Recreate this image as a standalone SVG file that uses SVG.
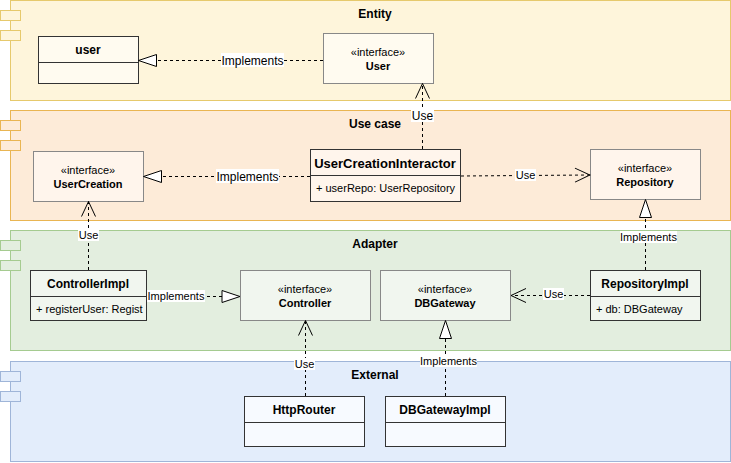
<svg xmlns="http://www.w3.org/2000/svg" width="731" height="463" viewBox="0 0 731 463">
<style>
text{font-family:"Liberation Sans",Arial,sans-serif;fill:#000}
.t{font-size:12px;font-weight:bold;text-anchor:middle}
.tl{font-size:13px;font-weight:bold;text-anchor:middle}
.st{font-size:11px;text-anchor:middle}
.at{font-size:11px}
.lb{font-size:11px;text-anchor:middle}
.lb2{font-size:12px;text-anchor:middle}
.n{stroke:#333;stroke-width:1}
.i{stroke:#888;stroke-width:1}
.e{fill:none;stroke:#000;stroke-width:1;stroke-dasharray:3 3}
.lbg{fill:#fff}
</style>
<defs>
<marker id="tri" viewBox="0 0 20 14" refX="19" refY="7" markerWidth="20" markerHeight="14" markerUnits="userSpaceOnUse" orient="auto">
<path d="M1,1 L19,7 L1,13 Z" fill="#fff" stroke="#000" stroke-width="1"/>
</marker>
<marker id="open" viewBox="0 0 20 16" refX="19" refY="8" markerWidth="20" markerHeight="16" markerUnits="userSpaceOnUse" orient="auto">
<path d="M4,1 L19,8 L4,15" fill="none" stroke="#000" stroke-width="1"/>
</marker>
</defs>

<g id="entity">
<rect x="10.5" y="0.5" width="720" height="100" fill="#fef5db" stroke="#e6c96c"/>
<rect x="0.5" y="10.5" width="20" height="10" fill="#fef5db" stroke="#e6c96c"/>
<rect x="0.5" y="30.5" width="20" height="10" fill="#fef5db" stroke="#e6c96c"/>
<text class="t" x="375" y="18">Entity</text>
</g>
<g id="usecase">
<rect x="10.5" y="110.5" width="720" height="110" fill="#fdebd8" stroke="#e9b552"/>
<rect x="0.5" y="120.5" width="20" height="10" fill="#fdebd8" stroke="#e9b552"/>
<rect x="0.5" y="140.5" width="20" height="10" fill="#fdebd8" stroke="#e9b552"/>
<text class="t" x="375" y="128">Use case</text>
</g>
<g id="adapter">
<rect x="10.5" y="230.5" width="720" height="120" fill="#e3eedf" stroke="#a5cb90"/>
<rect x="0.5" y="240.5" width="20" height="10" fill="#e3eedf" stroke="#a5cb90"/>
<rect x="0.5" y="260.5" width="20" height="10" fill="#e3eedf" stroke="#a5cb90"/>
<text class="t" x="375" y="248">Adapter</text>
</g>
<g id="external">
<rect x="10.5" y="361.5" width="720" height="100" fill="#e3edfb" stroke="#9fb5d8"/>
<rect x="0.5" y="371.5" width="20" height="10" fill="#e3edfb" stroke="#9fb5d8"/>
<rect x="0.5" y="391.5" width="20" height="10" fill="#e3edfb" stroke="#9fb5d8"/>
<text class="t" x="375" y="379">External</text>
</g>

<g id="user">
<rect class="n" x="38.5" y="36.5" width="100" height="47" fill="#fffbf0"/>
<line class="n" x1="38.5" y1="62.5" x2="138.5" y2="62.5"/>
<text class="t" x="88" y="54">user</text>
</g>
<g id="User">
<rect class="i" x="323.5" y="33.5" width="110" height="50" fill="#fffbf0"/>
<text class="st" x="378" y="56">«interface»</text>
<text class="st" x="378" y="70" font-weight="bold">User</text>
</g>
<g id="UserCreation">
<rect class="i" x="33.5" y="151.5" width="110" height="50" fill="#fff5ec"/>
<text class="st" x="88" y="174">«interface»</text>
<text class="st" x="88" y="188" font-weight="bold">UserCreation</text>
</g>
<g id="UserCreationInteractor">
<rect class="n" x="310.5" y="149.5" width="150" height="52" fill="#fff5ec"/>
<line class="n" x1="310.5" y1="175.5" x2="460.5" y2="175.5"/>
<text class="tl" x="385" y="168">UserCreationInteractor</text>
<text class="at" x="316" y="192">+ userRepo: UserRepository</text>
</g>
<g id="Repository">
<rect class="i" x="590.5" y="149.5" width="110" height="50" fill="#fff5ec"/>
<text class="st" x="645" y="172">«interface»</text>
<text class="st" x="645" y="186" font-weight="bold">Repository</text>
</g>
<g id="ControllerImpl">
<rect class="n" x="30.5" y="270.5" width="116" height="50" fill="#f1f6ef"/>
<line class="n" x1="30.5" y1="296.5" x2="146.5" y2="296.5"/>
<text class="t" x="88" y="288">ControllerImpl</text>
<text class="at" x="36" y="313">+ registerUser: Regist</text>
</g>
<g id="Controller">
<rect class="i" x="240.5" y="270.5" width="130" height="50" fill="#f1f6ef"/>
<text class="st" x="305" y="293">«interface»</text>
<text class="st" x="305" y="307" font-weight="bold">Controller</text>
</g>
<g id="DBGateway">
<rect class="i" x="380.5" y="270.5" width="130" height="50" fill="#f1f6ef"/>
<text class="st" x="445" y="293">«interface»</text>
<text class="st" x="445" y="307" font-weight="bold">DBGateway</text>
</g>
<g id="RepositoryImpl">
<rect class="n" x="590.5" y="270.5" width="110" height="50" fill="#f1f6ef"/>
<line class="n" x1="590.5" y1="296.5" x2="700.5" y2="296.5"/>
<text class="t" x="645" y="288">RepositoryImpl</text>
<text class="at" x="596" y="313">+ db: DBGateway</text>
</g>
<g id="HttpRouter">
<rect class="n" x="244.5" y="396.5" width="120" height="50" fill="#f7faff"/>
<line class="n" x1="244.5" y1="422.5" x2="364.5" y2="422.5"/>
<text class="t" x="304" y="414">HttpRouter</text>
</g>
<g id="DBGatewayImpl">
<rect class="n" x="385.5" y="396.5" width="120" height="50" fill="#f7faff"/>
<line class="n" x1="385.5" y1="422.5" x2="505.5" y2="422.5"/>
<text class="t" x="445" y="414">DBGatewayImpl</text>
</g>

<g id="connectors">
<path class="e" d="M323,60.5 L138.5,60.5" marker-end="url(#tri)"/>
<rect class="lbg" x="221" y="53" width="63" height="14"/>
<text class="lb2" x="252.5" y="64.5">Implements</text>

<path class="e" d="M422.5,149 L422.5,83.5" marker-end="url(#open)"/>
<rect class="lbg" x="411" y="108" width="23" height="14"/>
<text class="lb2" x="422.5" y="119.5">Use</text>

<path class="e" d="M310,176.5 L143.5,176.5" marker-end="url(#tri)"/>
<rect class="lbg" x="216" y="169" width="63" height="14"/>
<text class="lb2" x="247.5" y="180.5">Implements</text>

<path class="e" d="M461,176 L590,175" marker-end="url(#open)"/>
<rect class="lbg" x="515" y="169" width="21" height="12"/>
<text class="lb" x="525.5" y="179">Use</text>

<path class="e" d="M88.5,270 L88.5,201.5" marker-end="url(#open)"/>
<rect class="lbg" x="78" y="229" width="21" height="12"/>
<text class="lb" x="88.5" y="239">Use</text>

<path class="e" d="M147,296.5 L240,296.5" marker-end="url(#tri)"/>
<rect class="lbg" x="147" y="290" width="58" height="12"/>
<text class="lb" x="176" y="300">Implements</text>

<path class="e" d="M590,295.5 L511,295.5" marker-end="url(#open)"/>
<rect class="lbg" x="543" y="288" width="21" height="12"/>
<text class="lb" x="553.5" y="298">Use</text>

<path class="e" d="M645.5,270 L645.5,199.5" marker-end="url(#tri)"/>
<rect class="lbg" x="620" y="231" width="57" height="12"/>
<text class="lb" x="648.5" y="241">Implements</text>

<path class="e" d="M305.5,396 L305.5,320.5" marker-end="url(#open)"/>
<rect class="lbg" x="294" y="358" width="21" height="12"/>
<text class="lb" x="304.5" y="368">Use</text>

<path class="e" d="M445.5,396 L445.5,320.5" marker-end="url(#tri)"/>
<rect class="lbg" x="420" y="355" width="57" height="12"/>
<text class="lb" x="448.5" y="365">Implements</text>
</g>
</svg>
